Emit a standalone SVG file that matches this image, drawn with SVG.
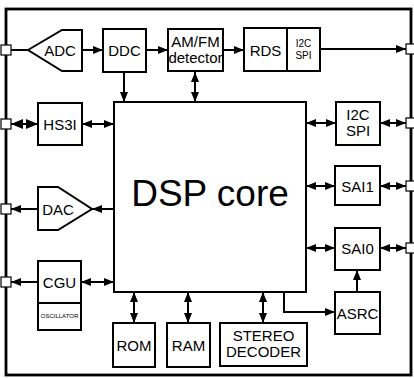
<svg xmlns="http://www.w3.org/2000/svg" width="414" height="378" viewBox="0 0 414 378">
<style>
.box{fill:#fff;stroke:#000;stroke-width:2}
.frame{fill:none;stroke:#000;stroke-width:2.8}
.port{fill:#fff;stroke:#000;stroke-width:1.2}
.ln{fill:none;stroke:#000;stroke-width:2}
.t{font-family:"Liberation Sans",Arial,sans-serif;font-size:15px;fill:#000;text-anchor:middle}
.s{font-size:10px}
.xs{font-size:6px}
.big{font-size:37px}
</style>
<defs>
<marker id="ah" viewBox="0 0 10 8" refX="10" refY="4" markerWidth="10" markerHeight="8" orient="auto-start-reverse" markerUnits="userSpaceOnUse">
<path d="M0,0 L10,4 L0,8 Z" fill="#000"/>
</marker>
<marker id="ahb" viewBox="0 0 12 10" refX="12" refY="5" markerWidth="12" markerHeight="10" orient="auto-start-reverse" markerUnits="userSpaceOnUse">
<path d="M0,0 L12,5 L0,10 Z" fill="#000"/>
</marker>
</defs>
<rect width="414" height="378" fill="#fff"/>
<rect class="frame" x="6" y="9" width="405" height="366"/>

<g id="connectors">
<line class="ln" x1="11" y1="50" x2="28" y2="50"/>
<line class="ln" x1="82" y1="50" x2="103" y2="50" marker-end="url(#ah)"/>
<line class="ln" x1="146" y1="50" x2="168" y2="50" marker-end="url(#ah)"/>
<line class="ln" x1="223" y1="50" x2="244" y2="50" marker-end="url(#ah)"/>
<line class="ln" x1="320" y1="49" x2="406" y2="49" marker-end="url(#ah)"/>
<line class="ln" x1="124" y1="72" x2="124" y2="102" marker-end="url(#ah)"/>
<line class="ln" x1="195" y1="72" x2="195" y2="102" marker-start="url(#ah)" marker-end="url(#ah)"/>
<line class="ln" x1="11" y1="124" x2="38" y2="124" marker-start="url(#ahb)" marker-end="url(#ahb)"/>
<line class="ln" x1="82" y1="124" x2="114" y2="124" marker-start="url(#ah)" marker-end="url(#ah)"/>
<line class="ln" x1="114" y1="209" x2="92" y2="209" marker-end="url(#ah)"/>
<line class="ln" x1="38" y1="209" x2="11" y2="209" marker-end="url(#ah)"/>
<line class="ln" x1="38" y1="282" x2="11" y2="282" marker-end="url(#ah)"/>
<line class="ln" x1="81" y1="282" x2="114" y2="282" marker-start="url(#ah)" marker-end="url(#ah)"/>
<line class="ln" x1="134" y1="292" x2="134" y2="323" marker-start="url(#ah)" marker-end="url(#ah)"/>
<line class="ln" x1="188" y1="292" x2="188" y2="323" marker-start="url(#ah)" marker-end="url(#ah)"/>
<line class="ln" x1="263" y1="292" x2="263" y2="323" marker-start="url(#ah)" marker-end="url(#ah)"/>
<polyline class="ln" points="284,292 284,312 335,312" marker-end="url(#ah)"/>
<line class="ln" x1="357" y1="292" x2="357" y2="270" marker-end="url(#ah)"/>
<line class="ln" x1="306" y1="123" x2="336" y2="123" marker-start="url(#ah)" marker-end="url(#ah)"/>
<line class="ln" x1="380" y1="123" x2="406" y2="123" marker-start="url(#ah)" marker-end="url(#ah)"/>
<line class="ln" x1="306" y1="186" x2="335" y2="186" marker-start="url(#ah)" marker-end="url(#ah)"/>
<line class="ln" x1="380" y1="186" x2="406" y2="186" marker-start="url(#ah)" marker-end="url(#ah)"/>
<line class="ln" x1="306" y1="248" x2="335" y2="248" marker-start="url(#ah)" marker-end="url(#ah)"/>
<line class="ln" x1="380" y1="248" x2="406" y2="248" marker-start="url(#ah)" marker-end="url(#ah)"/>
</g>

<g id="ports">
<rect class="port" x="1" y="45" width="10" height="10"/>
<rect class="port" x="1" y="119" width="10" height="10"/>
<rect class="port" x="1" y="204" width="10" height="10"/>
<rect class="port" x="1" y="277" width="10" height="10"/>
<rect class="port" x="406" y="44" width="10" height="10"/>
<rect class="port" x="406" y="118" width="10" height="10"/>
<rect class="port" x="406" y="181" width="10" height="10"/>
<rect class="port" x="406" y="243" width="10" height="10"/>
</g>

<g id="adc">
<path class="box" d="M28,50 L62,30 L82,30 L82,71 L62,71 Z"/>
<text class="t" x="60" y="55.5">ADC</text>
</g>
<g id="ddc">
<rect class="box" x="103" y="29" width="43" height="43"/>
<text class="t" x="124.5" y="55.5">DDC</text>
</g>
<g id="amfm">
<rect class="box" x="168" y="29" width="55" height="42"/>
<text class="t" x="195.5" y="47">AM/FM</text>
<text class="t" x="195.5" y="62.5">detector</text>
</g>
<g id="rds">
<rect class="box" x="244" y="28" width="76" height="43"/>
<line class="ln" x1="287" y1="28" x2="287" y2="71"/>
<text class="t" x="265.5" y="55.5">RDS</text>
<text class="t s" x="303.5" y="47">I2C</text>
<text class="t s" x="303.5" y="59">SPI</text>
</g>
<g id="hs3i">
<rect class="box" x="38" y="103" width="44" height="42"/>
<text class="t" x="60" y="129.5">HS3I</text>
</g>
<g id="dac">
<path class="box" d="M38,187 L58,187 L92,209 L58,230 L38,230 Z"/>
<text class="t" x="58" y="214.5">DAC</text>
</g>
<g id="cgu">
<rect class="box" x="38" y="261" width="43" height="69"/>
<line class="ln" x1="38" y1="303" x2="81" y2="303"/>
<text class="t" x="59.5" y="287.5">CGU</text>
<text class="t xs" x="59.5" y="318">OSCILLATOR</text>
</g>
<g id="dsp">
<rect class="box" x="114" y="102" width="192" height="190"/>
<text class="t big" x="210" y="206">DSP core</text>
</g>
<g id="i2cspi">
<rect class="box" x="336" y="102" width="44" height="43"/>
<text class="t" x="358" y="120">I2C</text>
<text class="t" x="358" y="136">SPI</text>
</g>
<g id="sai1">
<rect class="box" x="335" y="166" width="45" height="39"/>
<text class="t" x="357.5" y="191.5">SAI1</text>
</g>
<g id="sai0">
<rect class="box" x="335" y="228" width="45" height="42"/>
<text class="t" x="357.5" y="253.5">SAI0</text>
</g>
<g id="asrc">
<rect class="box" x="335" y="292" width="45" height="42"/>
<text class="t" x="357.5" y="318.5">ASRC</text>
</g>
<g id="rom">
<rect class="box" x="113" y="323" width="42" height="44"/>
<text class="t" x="134" y="350.5">ROM</text>
</g>
<g id="ram">
<rect class="box" x="167" y="323" width="43" height="44"/>
<text class="t" x="188.5" y="350.5">RAM</text>
</g>
<g id="stereo">
<rect class="box" x="220" y="323" width="87" height="43"/>
<text class="t" x="263.5" y="341">STEREO</text>
<text class="t" x="263.5" y="357">DECODER</text>
</g>
</svg>
